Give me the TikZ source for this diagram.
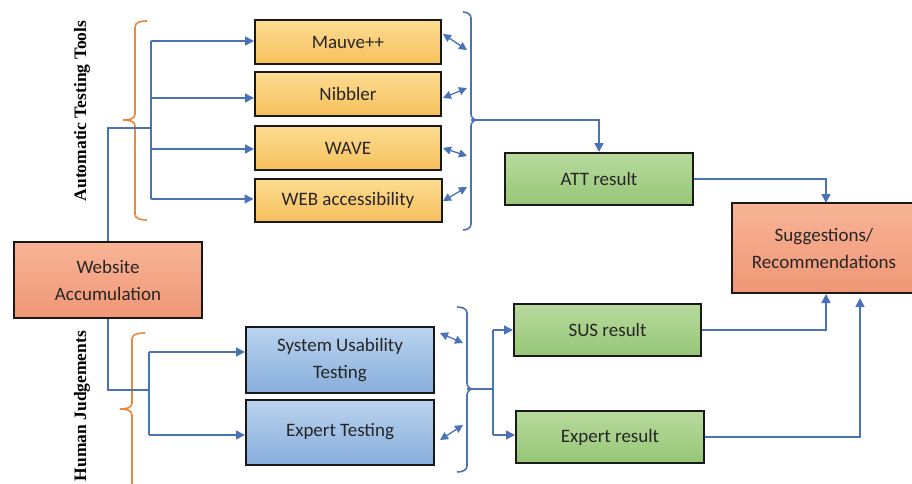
\documentclass[tikz,border=0pt]{standalone}
\usepackage{fontspec}
\setmainfont{Carlito}
\newfontfamily\labelfont{Liberation Serif}
\usetikzlibrary{arrows.meta,calc}
\definecolor{lineblue}{HTML}{4A72B8}
\definecolor{braceorange}{HTML}{E8893E}
\definecolor{txtgray}{HTML}{262626}
\tikzset{
  box/.style={draw=black!90, line width=2pt, inner sep=2pt, align=center,
    text=txtgray, font=\fontsize{19}{27}\selectfont},
  ybox/.style={box, top color={rgb,255:red,253;green,220;blue,146}, bottom color={rgb,255:red,246;green,192;blue,92}},
  gbox/.style={box, top color={rgb,255:red,184;green,218;blue,158}, bottom color={rgb,255:red,150;green,198;blue,118}},
  bbox/.style={box, top color={rgb,255:red,186;green,211;blue,238}, bottom color={rgb,255:red,136;green,174;blue,220}},
  sbox/.style={box, top color={rgb,255:red,248;green,180;blue,150}, bottom color={rgb,255:red,239;green,150;blue,118}},
  conn/.style={draw=lineblue, line width=1.6pt},
  arr/.style={conn, -{Triangle[length=9pt,width=9pt]}},
  darr/.style={draw=lineblue, line width=1.3pt, {Triangle[length=8pt,width=8pt]}-{Triangle[length=8pt,width=8pt]}},
  obrace/.style={draw=braceorange, line width=1.6pt},
  bbrace/.style={draw=lineblue, line width=1.6pt},
  sidelabel/.style={rotate=90, font=\labelfont\bfseries\fontsize{17.5}{20}\selectfont, text=black}
}
\begin{document}
\begin{tikzpicture}[x=1pt,y=-1pt]
\useasboundingbox (0,0) rectangle (912,484);
\fill[white] (0,0) rectangle (912,484);

% nodes
\node[ybox, minimum width=186pt, minimum height=44pt] (mauve) at (348,42) {Mauve++};
\node[ybox, minimum width=186pt, minimum height=44pt] (nib) at (348,94) {Nibbler};
\node[ybox, minimum width=186pt, minimum height=44pt] (wave) at (348,148) {WAVE};
\node[ybox, minimum width=187pt, minimum height=43pt] (web) at (348,200) {WEB accessibility};
\node[sbox, minimum width=188pt, minimum height=76pt] (site) at (108,280) {Website\\Accumulation};
\node[bbox, minimum width=188pt, minimum height=66pt] (sut) at (340,360) {System Usability\\Testing};
\node[bbox, minimum width=188pt, minimum height=65pt] (ext) at (340,432) {Expert Testing};
\node[gbox, minimum width=188pt, minimum height=52pt] (att) at (599,179) {ATT result};
\node[sbox, minimum width=184pt, minimum height=90pt] (sugg) at (824,248) {Suggestions/\\Recommendations};
\node[gbox, minimum width=187pt, minimum height=52pt] (sus) at (607.5,330) {SUS result};
\node[gbox, minimum width=188pt, minimum height=52pt] (exr) at (610,437) {Expert result};

% side labels
\node[sidelabel] (atl) at (82,111) {Automatic Testing Tools};
\node[sidelabel] (hjl) at (82,406) {Human Judgements};

% orange braces
\draw[obrace] (147,21) to[out=180,in=90] (135,27) -- (135,114) to[out=270,in=0] (123,120)
  to[out=0,in=90] (135,126) -- (135,214) to[out=270,in=180] (147,220);
\draw[obrace] (145,333) to[out=180,in=90] (132,339) -- (132,403) to[out=270,in=0] (120,409)
  to[out=0,in=90] (132,415) -- (132,490);

% blue braces
\draw[bbrace] (463,12) to[out=0,in=90] (471,18) -- (471,114) to[out=270,in=180] (477,120)
  to[out=180,in=90] (471,126) -- (471,224) to[out=270,in=0] (463,230);
\draw[bbrace] (457,307) to[out=0,in=90] (467,313) -- (467,383) to[out=270,in=180] (473,389)
  to[out=180,in=90] (467,395) -- (467,466) to[out=270,in=0] (457,472);

% top tree
\coordinate (ta) at (151,128);
\coordinate (tt) at (151,41);
\coordinate (tb) at (151,199);
\draw[conn] (site.north) |- (ta);
\draw[conn] (tt) -- (tb);
\draw[arr] (tt) -- (tt -| mauve.west);
\draw[arr] (151,98) -- (nib.west |- 0,98);
\draw[arr] (151,149) -- (wave.west |- 0,149);
\draw[arr] (tb) -- (tb -| web.west);

% bottom tree
\coordinate (ha) at (149,390);
\coordinate (ht) at (149,352);
\coordinate (hb) at (149,435);
\draw[conn] (site.south) |- (ha);
\draw[conn] (ht) -- (hb);
\draw[arr] (ht) -- (ht -| sut.west);
\draw[arr] (hb) -- (hb -| ext.west);

% double arrows to braces
\draw[darr] (443,34) -- (467,50);
\draw[darr] (443,98) -- (467,88);
\draw[darr] (443,148) -- (467,156);
\draw[darr] (443,201) -- (467,187);
\draw[darr] (440,333) -- (463,343);
\draw[darr] (440,440) -- (463,425);

% top brace to ATT
\coordinate (tbr) at (471,120);
\draw[arr] (tbr) -| (att.north);

% bottom brace to results
\coordinate (bbr) at (467,389);
\coordinate (bt) at (493,330);
\coordinate (bb) at (493,435);
\draw[conn] (bbr) -- (493,389);
\draw[conn] (bt) -- (bb);
\draw[arr] (bt) -- (bt -| sus.west);
\draw[arr] (bb) -- (bb -| exr.west);

% results to suggestions
\coordinate (s1) at (826,203);
\coordinate (s2) at (826,294);
\coordinate (s3) at (860,298);
\draw[arr] (att.east) -| (s1);
\draw[arr] (sus.east) -| (s2);
\draw[arr] (exr.east) -| (s3);
\end{tikzpicture}
\end{document}
